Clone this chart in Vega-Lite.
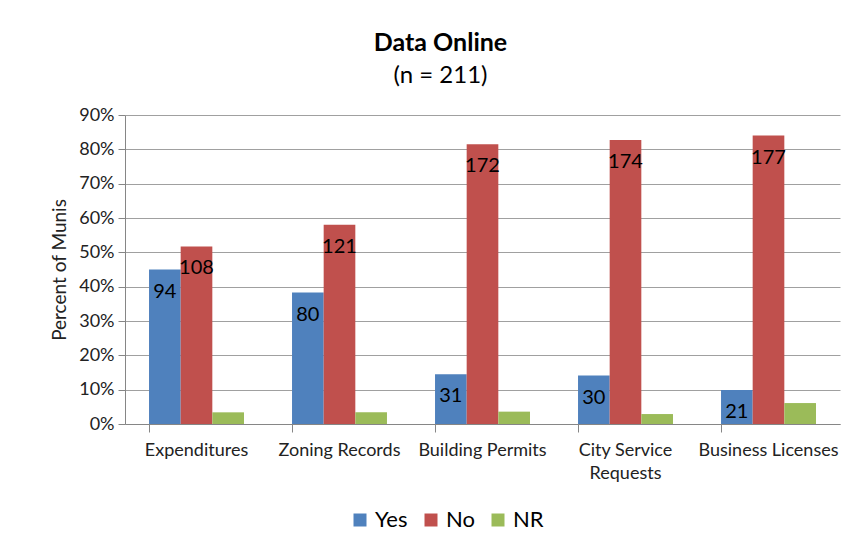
{
  "$schema": "https://vega.github.io/schema/vega-lite/v6.json",
  "autosize": {"type": "none"},
  "width": 715,
  "height": 309,
  "padding": {"left": 125, "top": 115, "right": 24, "bottom": 124},
  "background": "white",
  "title": {
    "text": "Data Online",
    "subtitle": "(n = 211)",
    "anchor": "middle",
    "frame": "group",
    "dx": -42,
    "offset": 18,
    "font": "Lato",
    "fontSize": 25,
    "fontWeight": "bold",
    "color": "#000000",
    "subtitleFont": "Lato",
    "subtitleFontSize": 24,
    "subtitleColor": "#000000",
    "subtitlePadding": 8
  },
  "data": {
    "values": [
      {"category": "Expenditures", "response": "Yes", "pct": 0.450, "count": 94},
      {"category": "Expenditures", "response": "No", "pct": 0.517, "count": 108},
      {"category": "Expenditures", "response": "NR", "pct": 0.034, "count": null},
      {"category": "Zoning Records", "response": "Yes", "pct": 0.383, "count": 80},
      {"category": "Zoning Records", "response": "No", "pct": 0.580, "count": 121},
      {"category": "Zoning Records", "response": "NR", "pct": 0.034, "count": null},
      {"category": "Building Permits", "response": "Yes", "pct": 0.145, "count": 31},
      {"category": "Building Permits", "response": "No", "pct": 0.815, "count": 172},
      {"category": "Building Permits", "response": "NR", "pct": 0.036, "count": null},
      {"category": "City Service Requests", "response": "Yes", "pct": 0.141, "count": 30},
      {"category": "City Service Requests", "response": "No", "pct": 0.827, "count": 174},
      {"category": "City Service Requests", "response": "NR", "pct": 0.029, "count": null},
      {"category": "Business Licenses", "response": "Yes", "pct": 0.099, "count": 21},
      {"category": "Business Licenses", "response": "No", "pct": 0.840, "count": 177},
      {"category": "Business Licenses", "response": "NR", "pct": 0.061, "count": null}
    ]
  },
  "encoding": {
    "x": {
      "field": "category",
      "type": "nominal",
      "sort": ["Expenditures", "Zoning Records", "Building Permits", "City Service Requests", "Business Licenses"],
      "scale": {"paddingInner": 0.336, "paddingOuter": 0.168},
      "axis": {
        "title": null,
        "labelAngle": 0,
        "bandPosition": 0,
        "labelFont": "Lato",
        "labelFontSize": 18,
        "labelColor": "#222222",
        "labelPadding": 9,
        "labelLineHeight": 23,
        "labelLimit": 200,
        "labelExpr": "datum.label == 'City Service Requests' ? ['City Service', 'Requests'] : datum.label",
        "domainColor": "#868686",
        "tickColor": "#868686",
        "tickSize": 8,
        "grid": false
      }
    },
    "xOffset": {
      "field": "response",
      "sort": ["Yes", "No", "NR"],
      "scale": {"paddingInner": 0, "paddingOuter": 0}
    },
    "y": {
      "field": "pct",
      "type": "quantitative",
      "scale": {"domain": [0, 0.9], "nice": false},
      "axis": {
        "title": "Percent of Munis",
        "titleFont": "Lato",
        "titleFontSize": 19,
        "titleFontWeight": "normal",
        "titleColor": "#222222",
        "titlePadding": 9,
        "format": ".0%",
        "values": [0, 0.1, 0.2, 0.3, 0.4, 0.5, 0.6, 0.7, 0.8, 0.9],
        "grid": true,
        "gridColor": "#a0a0a0",
        "domainColor": "#868686",
        "tickColor": "#868686",
        "tickSize": 7,
        "labelPadding": 4,
        "labelFont": "Lato",
        "labelFontSize": 18,
        "labelColor": "#222222"
      }
    }
  },
  "layer": [
    {
      "mark": {"type": "bar"},
      "encoding": {
        "color": {
          "field": "response",
          "type": "nominal",
          "scale": {"domain": ["Yes", "No", "NR"], "range": ["#4F81BD", "#C0504D", "#9BBB59"]},
          "legend": {
            "title": null,
            "orient": "none",
            "legendX": 224,
            "legendY": 394,
            "direction": "horizontal",
            "symbolType": "square",
            "symbolSize": 169,
            "symbolStrokeWidth": 0,
            "symbolOpacity": 1,
            "labelFont": "Lato",
            "labelFontSize": 22,
            "labelColor": "#000000",
            "labelOffset": 4,
            "columnPadding": 12
          }
        }
      }
    },
    {
      "transform": [{"filter": "datum.response != 'NR'"}],
      "mark": {"type": "text", "dy": 22, "baseline": "middle", "font": "Lato", "fontSize": 20, "color": "#000000"},
      "encoding": {
        "text": {"field": "count", "type": "quantitative"}
      }
    }
  ],
  "config": {
    "view": {"stroke": null},
    "font": "Lato"
  }
}
